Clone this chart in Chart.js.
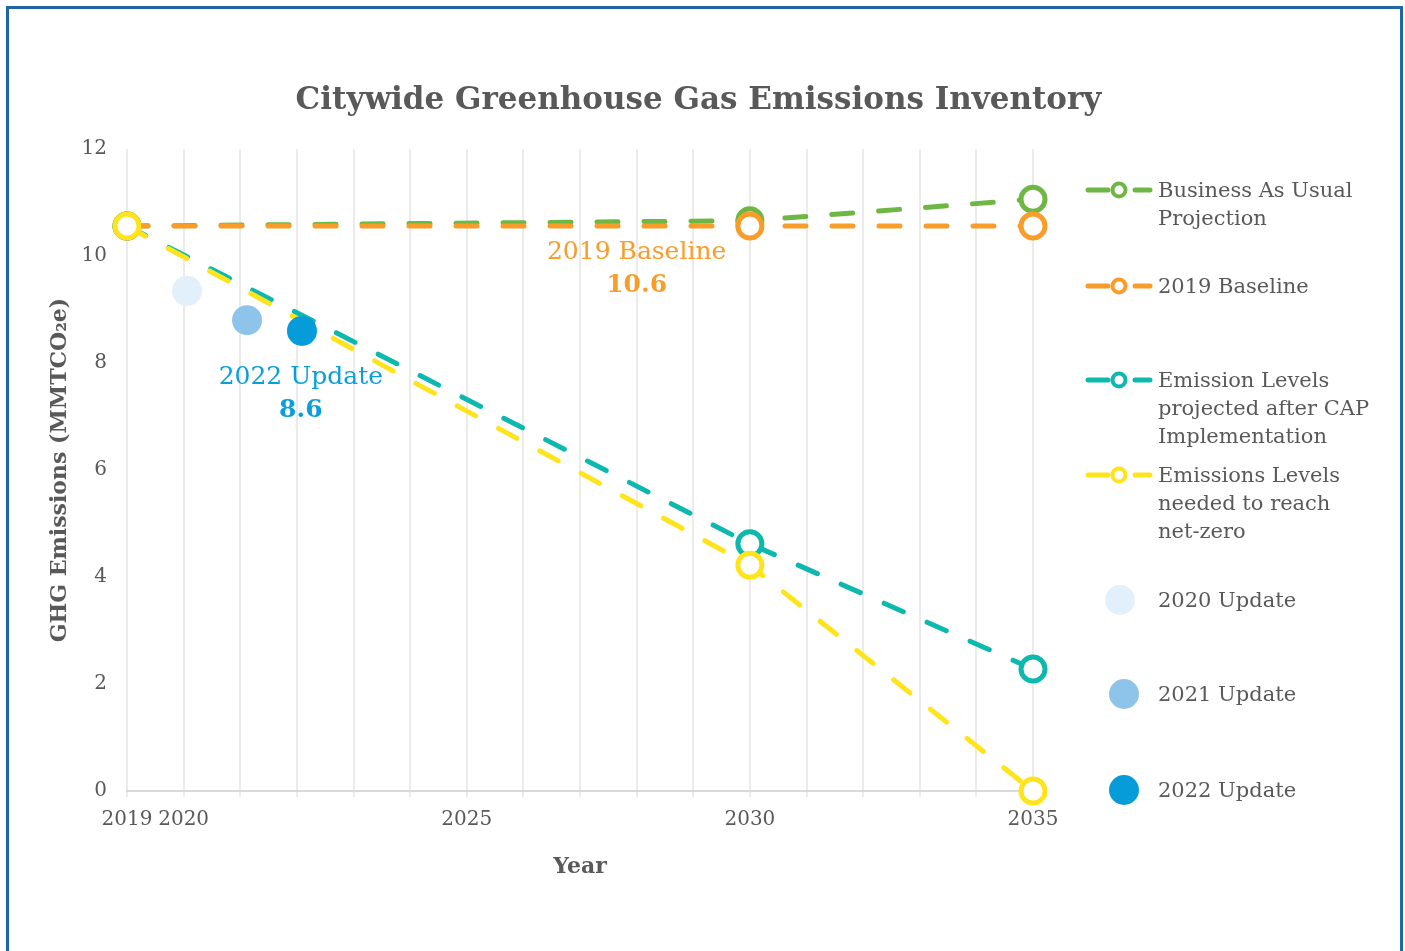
<!DOCTYPE html>
<html>
<head>
<meta charset="utf-8">
<script src="https://cdn.jsdelivr.net/npm/chart.js@4.4.1/dist/chart.umd.min.js"></script>
<style>
  body { margin: 0; background: #fff; font-family: "DejaVu Serif", serif; color: #595959; }
  #frame { position: absolute; left: 6px; top: 6px; width: 1391px; height: 980px; border: 3px solid #1f66a6; }
  #wrap { position: absolute; left: 0; top: 0; width: 1405px; height: 951px; }
  #title { position: absolute; left: 0; top: 76px; width: 1397px; text-align: center;
           font-size: 31px; font-weight: bold; line-height: 44px; color: #595959; }
  .item { position: absolute; left: 1083px; font-size: 21px; line-height: 28px; }
  .item svg { position: absolute; left: 0; }
  .item span { position: absolute; left: 75px; white-space: pre; }
</style>
</head>
<body>
<div id="frame"></div>
<div id="wrap"><canvas id="chartGhg"></canvas></div>
<div id="title">Citywide Greenhouse Gas Emissions Inventory</div>
<div id="legend"></div>
<script>
// valeurs (MMTCO2e)
const years = [2019, 2030, 2035];
const businessAsUsual = [10.56, 10.66, 11.06];
const baseline2019 = [10.56, 10.56, 10.56];
const capProjection = [10.56, 4.62, 2.28];
const netZeroPath = [10.56, 4.22, 0];

const updateYears = [2020.06, 2021.12, 2022.09];
const updateValues = [9.35, 8.80, 8.60];
const updateLabels = ['2020 Update', '2021 Update', '2022 Update'];

const yearTicks = [2019, 2020, 2025, 2030, 2035];

const lineLabels = ['Business As Usual Projection', '2019 Baseline',
  'Emission Levels projected after CAP Implementation', 'Emissions Levels needed to reach net-zero'];
const legendText = ['Business As Usual\nProjection', '2019 Baseline',
  'Emission Levels\nprojected after CAP\nImplementation', 'Emissions Levels\nneeded to reach\nnet-zero',
  '2020 Update', '2021 Update', '2022 Update'];

const lineColors = ['#6fb744', '#f89d2a', '#0db8ae', '#ffe41c'];
const updateColors = ['#e2f0fb', '#8ec3ea', '#069cd9'];

function toPoints(xs, ys) {
    return xs.map((x, i) => ({ x: x, y: ys[i] }));
}

const lineSeries = [businessAsUsual, baseline2019, capProjection, netZeroPath];
const datasets = [];

// points des mises à jour, dessinés au dessus
updateValues.forEach((v, i) => {
    datasets.push({
        label: updateLabels[i],
        data: [{ x: updateYears[i], y: v }],
        backgroundColor: updateColors[i],
        borderWidth: 0,
        pointRadius: 15,
        clip: false,
        order: 0
    });
});

lineSeries.forEach((serie, i) => {
    datasets.push({
        label: lineLabels[i],
        data: toPoints(years, serie),
        showLine: true,
        borderColor: lineColors[i],
        borderWidth: 5,
        borderDash: [21, 26],
        borderCapStyle: 'round',
        pointRadius: 12,
        pointBorderWidth: 5,
        pointBorderColor: lineColors[i],
        pointBackgroundColor: '#ffffff',
        clip: false,
        order: 4 - i
    });
});

// textes posés sur le graphique (en coordonnées des axes)
const notes = [
    { x: 2028.0, y: 10.07, lines: ['2019 Baseline', '10.6'], color: '#f89d2a' },
    { x: 2022.07, y: 7.72, lines: ['2022 Update', '8.6'], color: '#0a9fdb' }
];

const notesPlugin = {
    id: 'notes',
    afterDatasetsDraw(chart) {
        const ctx = chart.ctx;
        const xs = chart.scales.x, ys = chart.scales.y;
        ctx.save();
        ctx.textAlign = 'center';
        ctx.textBaseline = 'middle';
        notes.forEach(n => {
            const px = xs.getPixelForValue(n.x);
            const py = ys.getPixelForValue(n.y);
            ctx.fillStyle = n.color;
            ctx.font = '25px "DejaVu Serif"';
            ctx.fillText(n.lines[0], px, py);
            ctx.font = 'bold 25px "DejaVu Serif"';
            ctx.fillText(n.lines[1], px, py + 33);
        });
        ctx.restore();
    }
};

const chart = new Chart(document.getElementById('chartGhg'), {
    type: 'scatter',
    data: { datasets: datasets },
    options: {
        responsive: true,
        maintainAspectRatio: false,
        animation: false,
        layout: { padding: { left: 0, top: 149, right: 372, bottom: 0 } },
        plugins: {
            legend: { display: false },
            tooltip: { enabled: false }
        },
        scales: {
            x: {
                type: 'linear',
                min: 2019,
                max: 2035,
                afterFit: (scale) => { scale.height = 160; },
                ticks: {
                    stepSize: 1,
                    autoSkip: false,
                    maxRotation: 0,
                    padding: 11,
                    color: '#595959',
                    font: { family: 'DejaVu Serif', size: 20 },
                    callback: (value) => yearTicks.includes(value) ? String(value) : ''
                },
                grid: { color: '#ebebeb', lineWidth: 2, tickLength: 6 },
                border: { color: '#d9d9d9', width: 2 },
                title: {
                    display: true,
                    text: 'Year',
                    color: '#595959',
                    font: { family: 'DejaVu Serif', size: 22, weight: 'bold' },
                    padding: { top: 0, bottom: 71 }
                }
            },
            y: {
                min: 0,
                max: 12,
                afterFit: (scale) => { scale.width = 127; },
                ticks: {
                    stepSize: 2,
                    padding: 20,
                    color: '#595959',
                    font: { family: 'DejaVu Serif', size: 20 }
                },
                grid: { display: false, drawTicks: false },
                border: { display: false },
                title: {
                    display: true,
                    text: 'GHG Emissions (MMTCO₂e)',
                    color: '#595959',
                    font: { family: 'DejaVu Serif', size: 22, weight: 'bold' },
                    padding: { top: 47, bottom: 0 }
                }
            }
        }
    },
    plugins: [notesPlugin]
});

// légende à droite
const rows = [190, 286, 380, 475, 600, 694, 790];
const legend = document.getElementById('legend');
legendText.forEach((txt, i) => {
    const div = document.createElement('div');
    div.className = 'item';
    div.style.top = (rows[i] - 14) + 'px';
    let icon;
    if (i < 4) {
        const c = lineColors[i];
        icon = '<svg width="72" height="20" style="top:4px">' +
            '<line x1="5" y1="10" x2="25" y2="10" stroke="' + c + '" stroke-width="5" stroke-linecap="round"/>' +
            '<circle cx="36" cy="10" r="6.5" fill="#fff" stroke="' + c + '" stroke-width="4"/>' +
            '<line x1="52" y1="10" x2="67" y2="10" stroke="' + c + '" stroke-width="5" stroke-linecap="round"/></svg>';
    } else {
        const cx = i === 4 ? 37 : 41;
        icon = '<svg width="72" height="32" style="top:-2px"><circle cx="' + cx + '" cy="16" r="15" fill="' + updateColors[i - 4] + '"/></svg>';
    }
    div.innerHTML = icon + '<span>' + txt + '</span>';
    legend.appendChild(div);
});
</script>
</body>
</html>
